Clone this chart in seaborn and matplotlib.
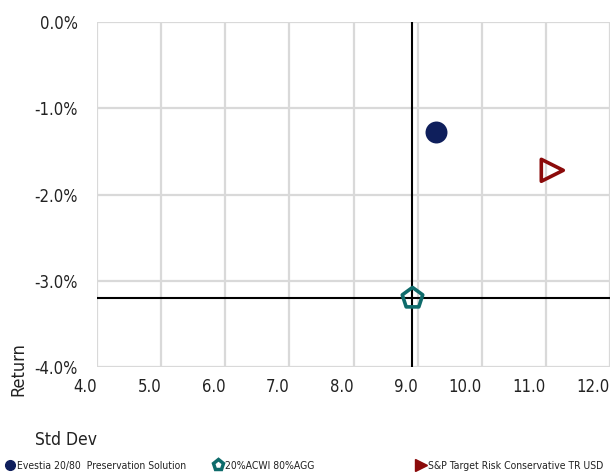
import matplotlib
matplotlib.use("Agg")
import matplotlib.pyplot as plt
import seaborn as sns
from matplotlib.lines import Line2D

# data
names = ["Evestia 20/80  Preservation Solution", "20%ACWI 80%AGG",
         "S&P Target Risk Conservative TR USD"]
std_devs = [9.28, 8.92, 11.10]
returns = [-1.28, -3.20, -1.72]

# benchmark cross-hair (through the 20%ACWI 80%AGG point)
bench_sd = std_devs[1]
bench_ret = returns[1]

x_ticks = [4.0, 5.0, 6.0, 7.0, 8.0, 9.0, 10.0, 11.0, 12.0]
y_ticks = [0.0, -1.0, -2.0, -3.0, -4.0]

sns.set_style("white")
plt.rcParams["font.family"] = ["DejaVu Sans"]
plt.rcParams["font.stretch"] = "condensed"

fig = plt.figure(figsize=(6.11, 4.72), dpi=100)
ax = fig.add_axes([97 / 611, 1 - 367.3 / 472, 513 / 611, (367.3 - 21.7) / 472])

grid_col = "#d9d9d9"
for t in x_ticks:
    ax.axvline(t, color=grid_col, lw=1.6, zorder=0)
for t in y_ticks:
    ax.axhline(t, color=grid_col, lw=1.6, zorder=0)

ax.axhline(bench_ret, color="black", lw=1.5, zorder=1)
ax.axvline(bench_sd, color="black", lw=1.5, zorder=1)

styles = [
    dict(marker="o", s=250, color="#0f1f5c", edgecolor="#0f1f5c", linewidth=0),
    dict(marker="p", s=240, facecolor="none", edgecolor="#0e6b6b", linewidth=2.6),
    dict(marker=">", s=250, facecolor="none", edgecolor="#8b0a0a", linewidth=2.6),
]
for sd, ret, st in zip(std_devs, returns, styles):
    sns.scatterplot(x=[sd], y=[ret], ax=ax, legend=False, zorder=3, **st)

ax.set_xlim(4, 12)
ax.set_ylim(-4, 0)
ax.set_xticks(x_ticks)
ax.set_yticks(y_ticks)
ax.set_xticklabels([f"{t:.1f}" for t in x_ticks], ha="right")
ax.set_yticklabels([f"{t:.1f}%" for t in y_ticks])
ax.tick_params(axis="both", length=0, labelsize=12, colors="#222222")
ax.tick_params(axis="x", pad=8)
ax.tick_params(axis="y", pad=14)
for sp in ax.spines.values():
    sp.set_visible(False)
ax.set_xlabel("")
ax.set_ylabel("")

fig.text(18 / 611, 1 - 396 / 472, "Return", rotation=90, ha="center", va="bottom",
         fontsize=13, color="#222222")
fig.text(35 / 611, 1 - 440 / 472, "Std Dev", ha="left", va="center",
         fontsize=12.5, color="#222222")

# legend: three separate entries at fixed positions
leg_markers = [
    dict(marker="o", color="#0f1f5c", markerfacecolor="#0f1f5c", markersize=7),
    dict(marker="p", color="#0e6b6b", markerfacecolor="white", markeredgewidth=2.5, markersize=8),
    dict(marker=">", color="#8b0a0a", markerfacecolor="#8b0a0a", markersize=8),
]
leg_x = [6, 214, 417]
for name, lm, lx in zip(names, leg_markers, leg_x):
    h = Line2D([], [], linestyle="none", **lm)
    fig.legend(handles=[h], labels=[name], loc="center left",
               bbox_to_anchor=(lx / 611, 1 - 466 / 472), frameon=False,
               fontsize=7.5, handlelength=0.8, handletextpad=0.3, borderpad=0,
               borderaxespad=0, labelcolor="#222222")

fig.savefig("out.png", dpi=100)
